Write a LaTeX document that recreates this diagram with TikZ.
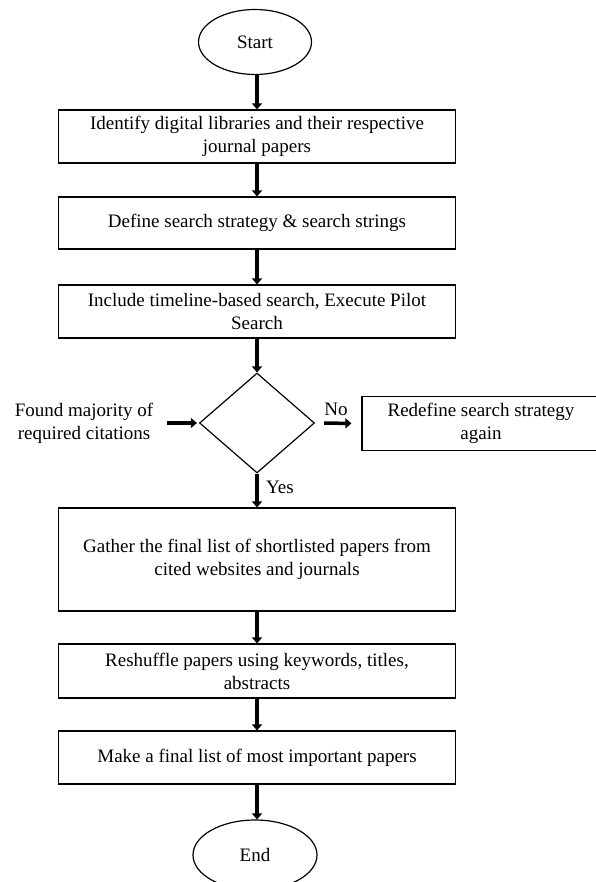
\documentclass[tikz,border=0pt]{standalone}
\usepackage{fontspec}
\setmainfont{Liberation Serif}
\usetikzlibrary{shapes.geometric,arrows.meta}

\tikzset{
  txt/.style={font=\fontsize{19}{23}\selectfont, align=center},
  terminal/.style={ellipse, draw, line width=1.2pt, inner sep=0pt, txt},
  process/.style={rectangle, draw, line width=1.2pt, minimum width=397pt, inner sep=0pt, txt},
  decision/.style={diamond, draw, line width=1.2pt, inner sep=0pt, minimum width=115pt, minimum height=100pt},
  flow/.style={-{Triangle[width=10pt,length=6pt]}, line width=3.5pt}
}

\begin{document}
\begin{tikzpicture}[x=1pt,y=-1pt]
    \useasboundingbox (0,0) rectangle (595,882);

        \node[terminal, minimum width=113pt, minimum height=65pt] (start) at (255, 42) {Start};
        \node[process, minimum height=53pt] (identify) at (257, 136.5) {Identify digital libraries and their respective\\journal papers};
        \node[process, minimum height=52pt] (define) at (257, 223) {Define search strategy \& search strings};
        \node[process, minimum height=53pt] (include) at (257, 311.5) {Include timeline-based search, Execute Pilot\\Search};
        \node[decision] (check) at (257, 423) {};
        \node[txt, inner sep=0pt] (found) at (84, 423) {Found majority of\\required citations};
        \node[rectangle, draw, line width=1.2pt, inner sep=0pt, txt, minimum width=238pt, minimum height=54pt] (redefine) at (481, 423.5) {Redefine search strategy\\again};
        \node[process, minimum height=103pt] (gather) at (257, 559.5) {Gather the final list of shortlisted papers from\\cited websites and journals};
        \node[process, minimum height=54pt] (reshuffle) at (257, 671) {Reshuffle papers using keywords, titles,\\abstracts};
        \node[process, minimum height=53pt] (final) at (257, 757.5) {Make a final list of most important papers};
        \node[terminal, minimum width=124pt, minimum height=70pt] (finish) at (255, 855) {End};

        \draw[flow] (start.south -| identify.north) -- (identify.north);
        \draw[flow] (identify) -- (define);
        \draw[flow] (define) -- (include);
        \draw[flow] (include) -- (check);
        \draw[flow, shorten <=14pt, shorten >=2pt] (found.east |- check.west) -- (check.west);
        \draw[flow, shorten <=9pt, shorten >=10pt] (check.east) -- node[txt, above=2pt, pos=0.45]{No} (redefine.west);
        \draw[flow] (check) -- node[txt, right=4pt, pos=0.4]{Yes} (gather);
        \draw[flow] (gather) -- (reshuffle);
        \draw[flow] (reshuffle) -- (final);
        \draw[flow] (final.south) -- (final.south |- finish.north);
    \end{tikzpicture}
\end{document}
